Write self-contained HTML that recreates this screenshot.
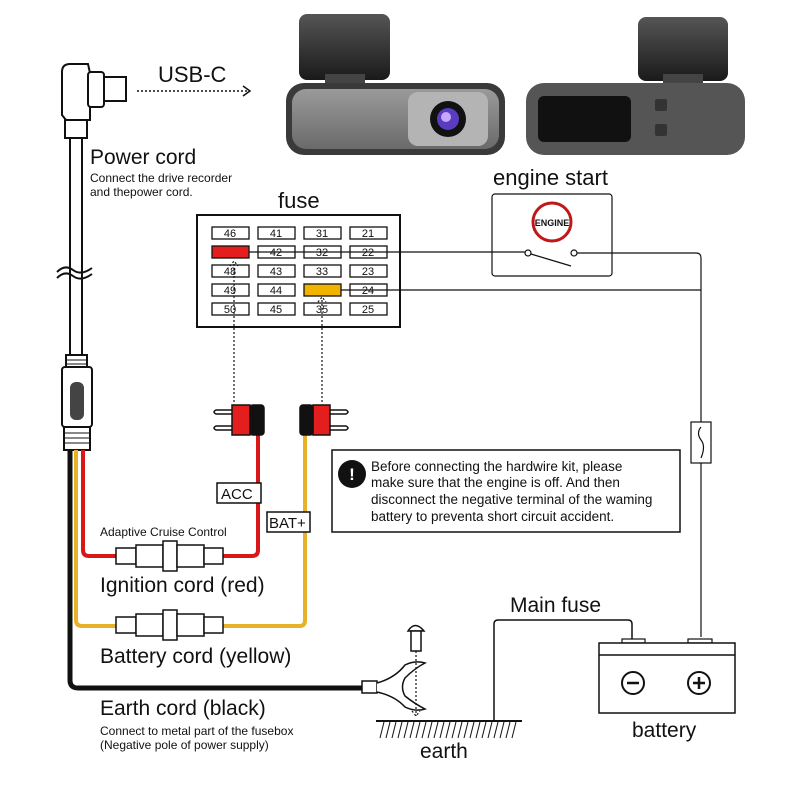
<!DOCTYPE html>
<html><head><style>body{margin:0;background:#fff}svg{display:block}text{font-family:"Liberation Sans",sans-serif;fill:#111}</style></head><body>
<svg width="800" height="800" viewBox="0 0 800 800" xmlns="http://www.w3.org/2000/svg">
<defs>
<linearGradient id="gb" x1="0" y1="0" x2="0" y2="1"><stop offset="0" stop-color="#555"/><stop offset="1" stop-color="#1a1a1a"/></linearGradient>
<linearGradient id="gs" x1="0" y1="0" x2="0" y2="1"><stop offset="0" stop-color="#9a9a9a"/><stop offset="1" stop-color="#6a6a6a"/></linearGradient>
</defs>
<!-- dashcams -->
<rect x="299" y="14" width="91" height="66" rx="8" fill="url(#gb)"/>
<rect x="325" y="74" width="40" height="12" fill="#444"/>
<rect x="286" y="83" width="219" height="72" rx="18" fill="#3a3a3a"/>
<rect x="292" y="89" width="207" height="60" rx="14" fill="url(#gs)"/>
<rect x="408" y="92" width="80" height="54" rx="10" fill="#b4b4b4"/>
<circle cx="448" cy="119" r="18" fill="#111"/><circle cx="448" cy="119" r="11" fill="#5a3cc0"/><circle cx="446" cy="117" r="5" fill="#c8a8ff"/>
<rect x="638" y="17" width="90" height="64" rx="8" fill="url(#gb)"/>
<rect x="663" y="74" width="40" height="12" fill="#444"/>
<rect x="526" y="83" width="219" height="72" rx="18" fill="#555"/>
<rect x="538" y="96" width="93" height="46" rx="6" fill="#111"/>
<rect x="655" y="99" width="12" height="12" rx="2" fill="#333"/><rect x="655" y="124" width="12" height="12" rx="2" fill="#333"/>
<!-- usb connector -->
<path d="M62 72 Q62 64 70 64 L88 64 L90 73 L90 120 L66 120 L62 115 Z" fill="#fff" stroke="#111" stroke-width="2"/>
<rect x="88" y="72" width="16" height="35" rx="3" fill="#fff" stroke="#111" stroke-width="2"/>
<rect x="104" y="77" width="22" height="24" fill="#fff" stroke="#111" stroke-width="2"/>
<rect x="65" y="120" width="22" height="18" fill="#fff" stroke="#111" stroke-width="2"/>
<rect x="70" y="138" width="12" height="220" fill="#fff" stroke="#111" stroke-width="2"/>
<path d="M57 272 Q65 264 73 270 T92 268 M57 278 Q65 270 73 276 T92 274" fill="none" stroke="#111" stroke-width="2"/>
<line x1="137" y1="91" x2="248" y2="91" stroke="#111" stroke-width="1.5" stroke-dasharray="2,2"/>
<path d="M243 86 L250 91 L243 96" fill="none" stroke="#111" stroke-width="1.5"/>
<text x="158" y="82" font-size="22">USB-C</text>
<text x="90" y="164" font-size="21">Power cord</text>
<text x="90" y="182" font-size="12">Connect the drive recorder</text>
<text x="90" y="196" font-size="12">and thepower cord.</text>
<!-- cord connector body -->
<rect x="66" y="355" width="21" height="12" fill="#fff" stroke="#111" stroke-width="2"/>
<path d="M66 360h21M66 364h21" stroke="#111"/>
<rect x="62" y="367" width="30" height="60" rx="3" fill="#fff" stroke="#111" stroke-width="2"/>
<rect x="70" y="382" width="14" height="38" rx="6" fill="#444"/>
<rect x="64" y="427" width="26" height="23" fill="#fff" stroke="#111" stroke-width="2"/>
<path d="M64 433h26M64 438h26M64 443h26" stroke="#111"/>
<!-- wires -->
<path d="M70 450 V680 Q70 688 78 688 H365" fill="none" stroke="#111" stroke-width="5"/>
<path d="M76 450 V620 Q76 626 82 626 H300 Q305 626 305 620 V432" fill="none" stroke="#e7b227" stroke-width="4"/>
<path d="M83 450 V550 Q83 556 89 556 H252 Q258 556 258 550 V432" fill="none" stroke="#d81818" stroke-width="4"/>
<!-- inline fuse holders -->
<g fill="#fff" stroke="#111" stroke-width="1.5">
<rect x="116" y="548" width="20" height="16"/><rect x="136" y="545" width="27" height="22"/><rect x="163" y="541" width="14" height="30"/><rect x="177" y="545" width="27" height="22"/><rect x="204" y="548" width="19" height="16"/>
<rect x="116" y="617" width="20" height="16"/><rect x="136" y="614" width="27" height="22"/><rect x="163" y="610" width="14" height="30"/><rect x="177" y="614" width="27" height="22"/><rect x="204" y="617" width="19" height="16"/>
</g>
<!-- fuse taps -->
<g stroke="#111" stroke-width="1.5">
<path d="M232 410 H216 Q212 412 216 414 H232 M232 426 H216 Q212 428 216 430 H232" fill="#fff"/>
<rect x="232" y="405" width="18" height="30" fill="#e41e1e"/><rect x="250" y="405" width="14" height="30" rx="3" fill="#111"/>
<path d="M330 410 H346 Q350 412 346 414 H330 M330 426 H346 Q350 428 346 430 H330" fill="#fff"/>
<rect x="313" y="405" width="17" height="30" fill="#e41e1e"/><rect x="300" y="405" width="13" height="30" rx="3" fill="#111"/>
</g>
<rect x="217" y="483" width="44" height="20" fill="#fff" stroke="#111" stroke-width="1.5"/>
<text x="221" y="499" font-size="15">ACC</text>
<rect x="267" y="512" width="43" height="20" fill="#fff" stroke="#111" stroke-width="1.5"/>
<text x="269" y="528" font-size="15">BAT+</text>
<text x="100" y="536" font-size="12">Adaptive Cruise Control</text>
<text x="100" y="592" font-size="21">Ignition cord (red)</text>
<text x="100" y="663" font-size="21">Battery cord (yellow)</text>
<text x="100" y="715" font-size="21">Earth cord (black)</text>
<text x="100" y="735" font-size="12">Connect to metal part of the fusebox</text>
<text x="100" y="749" font-size="12">(Negative pole of power supply)</text>
<!-- fuse box -->
<text x="278" y="208" font-size="22">fuse</text>
<rect x="197" y="215" width="203" height="112" fill="#fff" stroke="#111" stroke-width="2"/>
<g fill="#fff" stroke="#111" stroke-width="1.3">
<rect x="212" y="227" width="37" height="12"/><rect x="258" y="227" width="37" height="12"/><rect x="304" y="227" width="37" height="12"/><rect x="350" y="227" width="37" height="12"/>
<rect x="212" y="246" width="37" height="12" fill="#e41e1e"/><rect x="258" y="246" width="37" height="12"/><rect x="304" y="246" width="37" height="12"/><rect x="350" y="246" width="37" height="12"/>
<rect x="212" y="265" width="37" height="12"/><rect x="258" y="265" width="37" height="12"/><rect x="304" y="265" width="37" height="12"/><rect x="350" y="265" width="37" height="12"/>
<rect x="212" y="284" width="37" height="12"/><rect x="258" y="284" width="37" height="12"/><rect x="304" y="284" width="37" height="12" fill="#f0b400"/><rect x="350" y="284" width="37" height="12"/>
<rect x="212" y="303" width="37" height="12"/><rect x="258" y="303" width="37" height="12"/><rect x="304" y="303" width="37" height="12"/><rect x="350" y="303" width="37" height="12"/>
</g>
<g font-size="11" text-anchor="middle">
<text x="230" y="237">46</text><text x="276" y="237">41</text><text x="322" y="237">31</text><text x="368" y="237">21</text>
<text x="276" y="256">42</text><text x="322" y="256">32</text><text x="368" y="256">22</text>
<text x="230" y="275">48</text><text x="276" y="275">43</text><text x="322" y="275">33</text><text x="368" y="275">23</text>
<text x="230" y="294">49</text><text x="276" y="294">44</text><text x="368" y="294">24</text>
<text x="230" y="313">50</text><text x="276" y="313">45</text><text x="322" y="313">35</text><text x="368" y="313">25</text>
</g>
<g fill="none" stroke="#111" stroke-width="1.2">
<path d="M234 402 V262 M230 266 L234 261 L238 266 M322 402 V298 M318 302 L322 297 L326 302" stroke-dasharray="2,2"/>
<path d="M249 252 H525 M577 253 H696 Q701 253 701 258 V422 M341 290 H701 M531 254 L571 266 M701 462 V637"/>
<rect x="691" y="422" width="20" height="41" fill="#fff"/>
<path d="M701 427 Q696 433 701 440 Q706 446 701 458"/>
<circle cx="528" cy="253" r="3" fill="#fff"/><circle cx="574" cy="253" r="3" fill="#fff"/>
<rect x="492" y="194" width="120" height="82" rx="3"/>
</g>
<text x="493" y="185" font-size="22">engine start</text>
<circle cx="552" cy="222" r="19" fill="#fff" stroke="#c01818" stroke-width="3"/>
<text x="552" y="226" font-size="9" font-weight="bold" text-anchor="middle">ENGINE</text>
<!-- warning -->
<rect x="332" y="450" width="348" height="82" fill="#fff" stroke="#111" stroke-width="1.5"/>
<circle cx="352" cy="474" r="14" fill="#111"/>
<text x="352" y="480" font-size="17" font-weight="bold" text-anchor="middle" style="fill:#fff">!</text>
<g font-size="13.5"><text x="371" y="471">Before connecting the hardwire kit, please</text><text x="371" y="487">make sure that the engine is off. And then</text><text x="371" y="504">disconnect the negative terminal of the waming</text><text x="371" y="521">battery to preventa short circuit accident.</text></g>
<!-- earth -->
<path d="M362 681 h15 v12 h-15 z" fill="#fff" stroke="#111" stroke-width="1.5"/>
<path d="M377 683 Q395 678 405 665 Q415 660 425 663 Q415 668 405 678 Q400 687 405 696 Q415 704 425 709 Q415 712 405 707 Q395 696 377 692" fill="#fff" stroke="#111" stroke-width="1.5"/>
<path d="M408 631 Q415 620 424 631 Z" fill="#fff" stroke="#111" stroke-width="1.5"/>
<rect x="411" y="631" width="10" height="20" fill="#fff" stroke="#111" stroke-width="1.5"/>
<path d="M416 651 V716 M412 711 L416 716 L420 711" fill="none" stroke="#111" stroke-width="1.2" stroke-dasharray="2,2"/>
<line x1="376" y1="721" x2="522" y2="721" stroke="#111" stroke-width="2"/>
<path d="M380 738 l4 -16 M386 738 l4 -16 M392 738 l4 -16 M398 738 l4 -16 M404 738 l4 -16 M410 738 l4 -16 M416 738 l4 -16 M422 738 l4 -16 M428 738 l4 -16 M434 738 l4 -16 M440 738 l4 -16 M446 738 l4 -16 M452 738 l4 -16 M458 738 l4 -16 M464 738 l4 -16 M470 738 l4 -16 M476 738 l4 -16 M482 738 l4 -16 M488 738 l4 -16 M494 738 l4 -16 M500 738 l4 -16 M506 738 l4 -16 M512 738 l4 -16" stroke="#111" stroke-width="1"/>
<text x="420" y="758" font-size="21">earth</text>
<path d="M494 721 V624 Q494 620 498 620 H628 Q632 620 632 624 V640" fill="none" stroke="#111" stroke-width="1.5"/>
<text x="510" y="612" font-size="21">Main fuse</text>
<!-- battery -->
<rect x="622" y="639" width="23" height="4" fill="#fff" stroke="#111" stroke-width="1.2"/>
<rect x="688" y="639" width="24" height="4" fill="#fff" stroke="#111" stroke-width="1.2"/>
<rect x="599" y="643" width="136" height="70" fill="#fff" stroke="#111" stroke-width="1.5"/>
<line x1="599" y1="655" x2="735" y2="655" stroke="#111" stroke-width="1.5"/>
<circle cx="633" cy="683" r="11" fill="none" stroke="#111" stroke-width="2"/><path d="M627 683h12" stroke="#111" stroke-width="2.5"/>
<circle cx="699" cy="683" r="11" fill="none" stroke="#111" stroke-width="2"/><path d="M693 683h12M699 677v12" stroke="#111" stroke-width="2.5"/>
<text x="632" y="737" font-size="21">battery</text>
</svg>
</body></html>
